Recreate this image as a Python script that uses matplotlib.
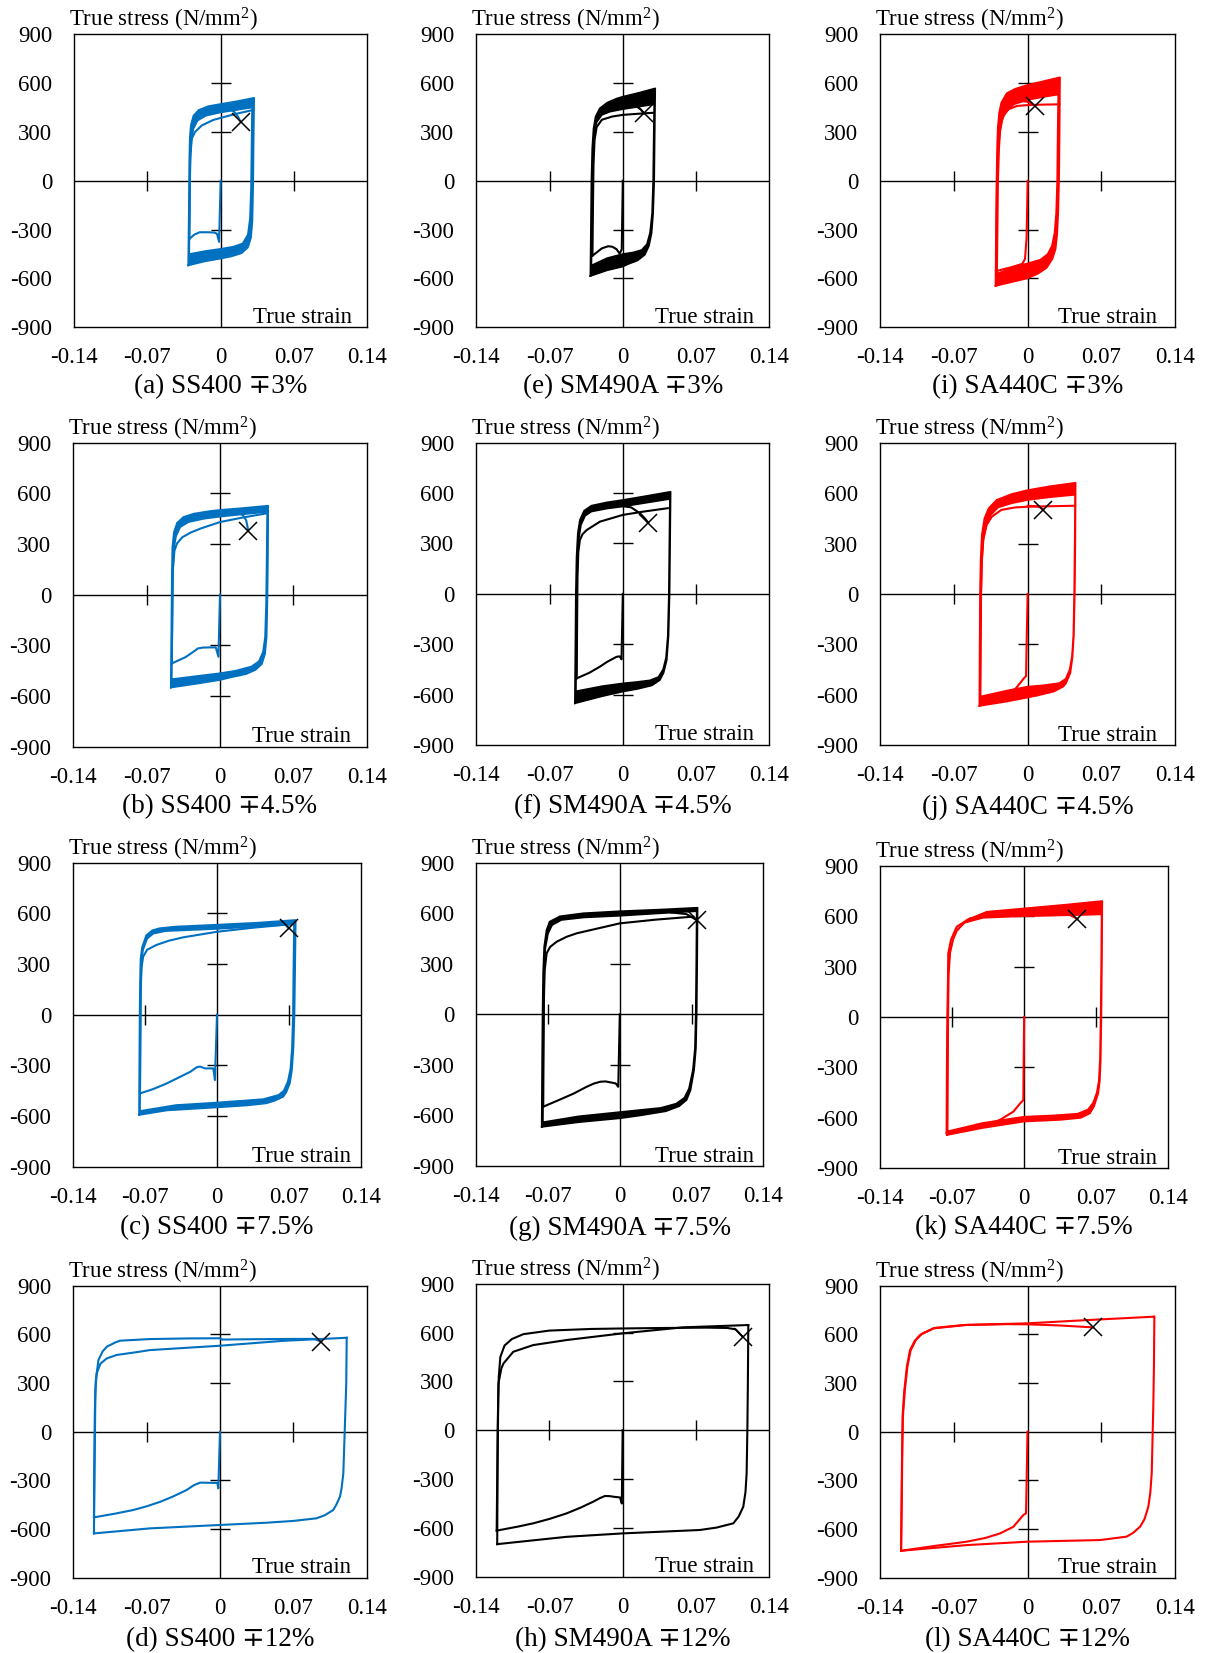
import numpy as np
import matplotlib
matplotlib.use("Agg")
import matplotlib.pyplot as plt
from matplotlib.path import Path
from matplotlib.patches import PathPatch

plt.rcParams['font.family'] = ['Liberation Serif', 'DejaVu Serif']
plt.rcParams['axes.linewidth'] = 1.0
plt.rcParams['mathtext.fontset'] = 'custom'
plt.rcParams['mathtext.rm'] = 'Liberation Serif'
plt.rcParams['mathtext.it'] = 'Liberation Serif:italic'
plt.rcParams['mathtext.default'] = 'rm'

W, H = 1209, 1653

# ---------------- axis ticks ----------------
X_TICKS = [-0.14, -0.07, 0.0, 0.07, 0.14]
X_TICK_LABELS = ['-0.14', '-0.07', '0', '0.07', '0.14']
Y_TICKS = [-900, -600, -300, 0, 300, 600, 900]
Y_TICK_LABELS = ['-900', '-600', '-300', '0', '300', '600', '900']
INNER_X_TICKS = [-0.07, 0.07]
INNER_Y_TICKS = [-600, -300, 300, 600]

BLUE = '#0070C0'
BLACK = '#000000'
RED = '#FF0000'

# ---------------- (a) SS400 -+3% ----------------
A_INIT = [(0, 0), (-0.0015, -375), (-0.0035, -325), (-0.006, -318), (-0.012, -316),
          (-0.02, -316), (-0.025, -330), (-0.0299, -357)]
A_FIRST = [(-0.0299, -357), (-0.0295, -100), (-0.029, 150), (-0.0275, 260), (-0.0245, 300),
           (-0.018, 340), (-0.007, 374), (0.005, 395), (0.015, 412), (0.031, 435)]
A_LOOP_OUT = [(-0.031, -520), (-0.0305, -250), (-0.030, 100), (-0.0295, 260), (-0.0285, 340),
              (-0.026, 400), (-0.021, 435), (-0.012, 458), (0.0, 472), (0.015, 488), (0.032, 510),
              (0.0315, 250), (0.031, -50), (0.0303, -250), (0.029, -350), (0.026, -410),
              (0.020, -445), (0.010, -465), (0.0, -478), (-0.015, -495), (-0.031, -520)]
A_LOOP_IN = [(-0.030, -450), (-0.0295, -200), (-0.029, 100), (-0.028, 250), (-0.026, 320),
             (-0.022, 370), (-0.014, 400), (0.0, 420), (0.015, 435), (0.030, 450),
             (0.0295, 200), (0.029, -50), (0.028, -230), (0.026, -330), (0.021, -385),
             (0.012, -405), (0.0, -418), (-0.015, -432), (-0.030, -450)]
A_END = [(0.005, 440), (0.012, 430), (0.016, 400), (0.019, 364)]
A_X = (0.019, 364)

# ---------------- (b) SS400 -+4.5% ----------------
B_INIT = [(0, 0), (-0.0015, -367), (-0.004, -312), (-0.01, -312), (-0.016, -313),
          (-0.021, -318), (-0.027, -345), (-0.033, -370), (-0.046, -407)]
B_FIRST = [(-0.046, -407), (-0.0455, -100), (-0.045, 150), (-0.0435, 260), (-0.041, 304),
           (-0.036, 340), (-0.028, 368), (-0.018, 393), (0.0, 430), (0.02, 455), (0.0446, 482)]
B_LOOP_OUT = [(-0.047, -550), (-0.0465, -250), (-0.046, 100), (-0.0455, 280), (-0.044, 370),
              (-0.041, 425), (-0.035, 460), (-0.025, 480), (-0.01, 495), (0.0, 502), (0.02, 512),
              (0.046, 527), (0.0458, 250), (0.0452, -50), (0.0445, -250), (0.043, -350),
              (0.040, -410), (0.034, -445), (0.025, -470), (0.01, -490), (0.0, -505),
              (-0.02, -525), (-0.047, -550)]
B_LOOP_IN = [(-0.046, -500), (-0.0455, -200), (-0.045, 100), (-0.044, 270), (-0.042, 345),
             (-0.038, 400), (-0.03, 430), (-0.015, 450), (0.0, 462), (0.02, 475), (0.045, 490),
             (0.0445, 200), (0.044, -50), (0.043, -250), (0.041, -340), (0.037, -395),
             (0.03, -425), (0.015, -450), (0.0, -465), (-0.02, -480), (-0.046, -500)]
B_END = [(0.01, 490), (0.018, 485), (0.022, 470), (0.025, 440), (0.027, 379)]
B_X = (0.027, 379)

# ---------------- (c) SS400 -+7.5% ----------------
C_INIT = [(0, 0), (-0.002, -387), (-0.0036, -318), (-0.008, -318), (-0.0117, -318),
          (-0.0166, -307), (-0.02, -312), (-0.026, -338), (-0.035, -365), (-0.049, -407),
          (-0.062, -440), (-0.075, -466)]
C_FIRST = [(-0.075, -466), (-0.0747, -150), (-0.0743, 150), (-0.0735, 280), (-0.072, 343),
           (-0.068, 385), (-0.059, 413), (-0.047, 438), (-0.033, 458), (0.0, 491),
           (0.035, 515), (0.074, 537)]
C_LOOP_OUT = [(-0.076, -594), (-0.0757, -300), (-0.0754, 0), (-0.075, 200), (-0.0745, 330),
              (-0.073, 400), (-0.069, 470), (-0.063, 500), (-0.056, 512), (-0.04, 522),
              (0.0, 533), (0.04, 545), (0.0767, 561), (0.0762, 300), (0.0755, 0),
              (0.0745, -200), (0.073, -330), (0.071, -407), (0.0675, -460), (0.0646, -486),
              (0.056, -510), (0.048, -525), (0.03, -537), (0.0, -549), (-0.049, -567),
              (-0.076, -594)]
C_LOOP_IN = [(-0.075, -570), (-0.0747, -300), (-0.0744, 0), (-0.074, 200), (-0.0735, 320),
             (-0.072, 385), (-0.068, 450), (-0.062, 480), (-0.05, 495), (0.0, 508),
             (0.04, 522), (0.075, 535), (0.0745, 300), (0.074, 0), (0.073, -200),
             (0.0715, -320), (0.069, -395), (0.065, -450), (0.06, -475), (0.045, -500),
             (0.0, -520), (-0.04, -535), (-0.075, -570)]
C_END = [(0.06, 548), (0.066, 538), (0.0698, 511)]
C_X = (0.0698, 511)

# ---------------- (d) SS400 -+12% ----------------
D_INIT = [(0, 0), (-0.0016, -349), (-0.0025, -316), (-0.01, -315), (-0.019, -314),
          (-0.025, -330), (-0.032, -360), (-0.045, -400), (-0.057, -432), (-0.07, -460),
          (-0.083, -483), (-0.1, -505), (-0.1203, -528)]
D_T1 = [(-0.1203, -528), (-0.12, -200), (-0.1195, 100), (-0.119, 250), (-0.1177, 360),
        (-0.114, 420), (-0.108, 452), (-0.0986, 473), (-0.08, 490), (-0.067, 503),
        (-0.03, 518), (0.0, 530), (0.06, 560), (0.1209, 579)]
D_C1 = [(0.1209, 579), (0.1205, 300), (0.119, 0), (0.1177, -257), (0.116, -350),
        (0.1145, -400), (0.111, -450), (0.108, -483), (0.1, -515), (0.092, -534),
        (0.07, -550), (0.0445, -561), (0.0, -575), (-0.067, -596), (-0.1203, -627)]
D_T2 = [(-0.1203, -627), (-0.1198, -300), (-0.1193, 0), (-0.119, 200), (-0.1185, 318),
        (-0.116, 442), (-0.112, 495), (-0.108, 524), (-0.1, 550), (-0.0955, 561),
        (-0.067, 571), (-0.03, 575), (0.0, 576), (0.002, 568), (0.03, 570), (0.07, 572),
        (0.09, 572), (0.0964, 555)]
D_X = (0.0964, 555)

# ---------------- (e) SM490A -+3% ----------------
E_INIT = [(0, 0), (-0.001, -420), (-0.003, -448), (-0.006, -420), (-0.01, -405),
          (-0.014, -402), (-0.02, -415), (-0.025, -440), (-0.029, -460)]
E_FIRST = [(-0.029, -460), (-0.0285, -150), (-0.028, 100), (-0.027, 250), (-0.025, 330),
           (-0.02, 375), (-0.01, 395), (0.0, 405), (0.015, 412), (0.029, 418)]
E_LOOP_OUT = [(-0.031, -585), (-0.0305, -300), (-0.030, 0), (-0.0292, 200), (-0.028, 320),
              (-0.026, 395), (-0.022, 445), (-0.015, 480), (-0.006, 505), (0.0, 517),
              (0.015, 540), (0.031, 568), (0.0305, 300), (0.030, 0), (0.029, -200),
              (0.0275, -322), (0.025, -400), (0.021, -455), (0.014, -490), (0.005, -512),
              (0.0, -527), (-0.015, -550), (-0.031, -585)]
E_LOOP_IN = [(-0.030, -520), (-0.0295, -250), (-0.029, 0), (-0.028, 200), (-0.027, 300),
             (-0.025, 360), (-0.02, 405), (-0.012, 425), (0.0, 440), (0.015, 455),
             (0.030, 470), (0.0295, 250), (0.029, 0), (0.028, -200), (0.026, -320),
             (0.023, -390), (0.018, -425), (0.01, -440), (0.0, -450), (-0.015, -475),
             (-0.030, -520)]
E_END = [(0.005, 470), (0.012, 462), (0.017, 440), (0.0202, 415)]
E_X = (0.0202, 415)

# ---------------- (f) SM490A -+4.5% ----------------
F_INIT = [(0, 0), (-0.0012, -390), (-0.003, -372), (-0.006, -375), (-0.009, -385),
          (-0.015, -405), (-0.022, -434), (-0.032, -470), (-0.044, -503)]
F_FIRST = [(-0.044, -503), (-0.0437, -200), (-0.0433, 100), (-0.0425, 250), (-0.041, 321),
           (-0.0385, 355), (-0.0345, 380), (-0.0218, 430), (0.0, 470), (0.02, 490),
           (0.043, 510)]
F_LOOP_OUT = [(-0.0458, -652), (-0.0453, -300), (-0.0449, 0), (-0.0442, 220), (-0.043, 360),
              (-0.041, 440), (-0.037, 495), (-0.03, 525), (-0.015, 545), (0.0, 559),
              (0.02, 580), (0.0457, 608), (0.0452, 300), (0.0447, 0), (0.0437, -250),
              (0.042, -394), (0.039, -470), (0.0355, -513), (0.028, -545), (0.015, -565),
              (0.0, -582), (-0.02, -610), (-0.0458, -652)]
F_LOOP_IN = [(-0.0448, -580), (-0.0444, -300), (-0.044, 0), (-0.0433, 200), (-0.042, 330),
             (-0.040, 410), (-0.036, 465), (-0.03, 490), (-0.015, 508), (0.0, 520),
             (0.02, 540), (0.045, 565), (0.0445, 300), (0.044, 0), (0.043, -250),
             (0.0413, -380), (0.0385, -450), (0.034, -495), (0.026, -515), (0.013, -525),
             (0.0, -533), (-0.02, -550), (-0.0448, -580)]
F_END = [(0.0, 522), (0.008, 515), (0.0165, 479), (0.021, 450), (0.0243, 424)]
F_X = (0.0243, 424)

# ---------------- (g) SM490A -+7.5% ----------------
G_INIT = [(0, 0), (-0.0015, -430), (-0.004, -410), (-0.008, -405), (-0.014, -398),
          (-0.019, -400), (-0.025, -410), (-0.0324, -430), (-0.045, -470), (-0.06, -510),
          (-0.0747, -548)]
G_FIRST = [(-0.0747, -548), (-0.0744, -200), (-0.074, 100), (-0.0733, 260), (-0.0714, 362),
           (-0.068, 400), (-0.0616, 431), (-0.052, 460), (-0.042, 481), (0.0, 540),
           (0.035, 562), (0.0717, 580)]
G_LOOP_OUT = [(-0.0762, -668), (-0.0758, -300), (-0.0754, 0), (-0.0748, 250), (-0.0738, 400),
              (-0.0715, 500), (-0.0685, 550), (-0.0584, 582), (-0.0356, 600), (0.0, 612),
              (0.04, 622), (0.0759, 633), (0.0755, 300), (0.075, 0), (0.0743, -200),
              (0.0725, -330), (0.069, -450), (0.0652, -508), (0.058, -545), (0.045, -575),
              (0.02, -600), (0.0, -617), (-0.04, -640), (-0.0762, -668)]
G_LOOP_IN = [(-0.075, -640), (-0.0747, -300), (-0.0743, 0), (-0.0737, 250), (-0.0727, 390),
             (-0.070, 480), (-0.066, 530), (-0.057, 560), (-0.035, 575), (0.0, 585),
             (0.04, 600), (0.075, 612), (0.0746, 300), (0.0741, 0), (0.0733, -200),
             (0.0713, -330), (0.0675, -440), (0.063, -495), (0.055, -530), (0.04, -555),
             (0.0, -580), (-0.04, -605), (-0.075, -640)]
G_END = [(0.05, 605), (0.065, 595), (0.0749, 560)]
G_X = (0.0749, 560)

# ---------------- (h) SM490A -+12% ----------------
H_INIT = [(0, 0), (-0.0008, -450), (-0.0026, -413), (-0.0073, -410), (-0.0125, -405),
          (-0.0169, -404), (-0.022, -418), (-0.0281, -439), (-0.04, -475), (-0.0536, -511),
          (-0.07, -545), (-0.0855, -572), (-0.1, -592), (-0.1205, -617)]
H_T1 = [(-0.1205, -617), (-0.120, -300), (-0.1196, 0), (-0.119, 200), (-0.1188, 288),
        (-0.116, 380), (-0.114, 410), (-0.1046, 482), (-0.0855, 523), (-0.0536, 554),
        (0.0, 595), (0.058, 632), (0.1202, 646)]
H_C1 = [(0.1202, 646), (0.1198, 300), (0.1193, 0), (0.1186, -265), (0.1175, -380),
        (0.1154, -470), (0.111, -530), (0.1059, -572), (0.09, -598), (0.074, -613),
        (0.0, -634), (-0.0536, -655), (-0.12, -700)]
H_T2 = [(-0.12, -700), (-0.1197, -300), (-0.1193, 0), (-0.119, 200), (-0.1185, 330),
        (-0.117, 450), (-0.113, 520), (-0.106, 560), (-0.095, 590), (-0.07, 612),
        (-0.03, 622), (0.0, 625), (0.04, 628), (0.08, 630), (0.1, 628), (0.108, 620),
        (0.1148, 574)]
H_X = (0.1148, 574)

# ---------------- (i) SA440C -+3% ----------------
I_INIT = [(0, 0), (-0.001, -350), (-0.0025, -480), (-0.005, -510), (-0.015, -530),
          (-0.03, -555)]
I_FIRST = [(-0.03, -555), (-0.0295, -250), (-0.029, 0), (-0.028, 200), (-0.026, 330),
           (-0.023, 400), (-0.018, 440), (-0.01, 460), (0.0, 465), (0.015, 468), (0.03, 470)]
I_LOOP_OUT = [(-0.0305, -646), (-0.030, -300), (-0.0295, 0), (-0.029, 200), (-0.0283, 330),
              (-0.027, 420), (-0.025, 480), (-0.0199, 538), (-0.012, 565), (0.0, 589),
              (0.015, 612), (0.0307, 636), (0.0303, 300), (0.0298, 0), (0.029, -200),
              (0.028, -330), (0.0265, -420), (0.0235, -480), (0.018, -535), (0.01, -570),
              (0.0, -599), (-0.015, -622), (-0.0305, -646)]
I_LOOP_IN = [(-0.029, -570), (-0.0285, -300), (-0.028, 0), (-0.027, 200), (-0.026, 300),
             (-0.024, 380), (-0.02, 430), (-0.013, 470), (0.0, 497), (0.015, 515),
             (0.029, 530), (0.0285, 300), (0.028, 0), (0.027, -200), (0.0255, -320),
             (0.023, -400), (0.019, -450), (0.012, -485), (0.0, -507), (-0.015, -535),
             (-0.029, -570)]
I_END = [(-0.005, 490), (0.0, 485), (0.004, 475), (0.007, 460)]
I_X = (0.007, 460)

# ---------------- (j) SA440C -+4.5% ----------------
J_INIT = [(0, 0), (-0.001, -300), (-0.0015, -488), (-0.004, -505), (-0.0073, -531),
          (-0.012, -567), (-0.025, -590), (-0.045, -615)]
J_FIRST = [(-0.045, -615), (-0.0447, -300), (-0.0443, 0), (-0.0435, 200), (-0.042, 330),
           (-0.039, 410), (-0.034, 460), (-0.025, 500), (-0.012, 515), (0.0, 519),
           (0.02, 522), (0.045, 525)]
J_LOOP_OUT = [(-0.0458, -666), (-0.0455, -300), (-0.0452, 0), (-0.0446, 200), (-0.0435, 350),
              (-0.041, 450), (-0.037, 510), (-0.0294, 560), (-0.015, 595), (0.0, 618),
              (0.02, 640), (0.0455, 662), (0.0452, 300), (0.0447, 0), (0.0438, -250),
              (0.0425, -380), (0.0405, -470), (0.0365, -530), (0.0338, -551), (0.025, -580),
              (0.012, -600), (0.0, -616), (-0.02, -640), (-0.0458, -666)]
J_LOOP_IN = [(-0.0448, -610), (-0.0444, -300), (-0.044, 0), (-0.0432, 200), (-0.042, 320),
             (-0.039, 410), (-0.035, 470), (-0.028, 515), (-0.015, 540), (0.0, 559),
             (0.02, 575), (0.045, 590), (0.0446, 300), (0.0441, 0), (0.0433, -250),
             (0.042, -370), (0.0398, -450), (0.036, -505), (0.03, -530), (0.015, -543),
             (0.0, -551), (-0.02, -575), (-0.0448, -610)]
J_END = [(0.0, 525), (0.008, 522), (0.012, 515), (0.0149, 500)]
J_X = (0.0149, 500)

# ---------------- (k) SA440C -+7.5% ----------------
K_INIT = [(0, 0), (-0.0005, -300), (-0.0008, -494), (-0.004, -515), (-0.0105, -563),
          (-0.0235, -612), (-0.035, -640), (-0.049, -662), (-0.0753, -692)]
K_FIRST = [(-0.0753, -692), (-0.075, -300), (-0.0746, 0), (-0.074, 200), (-0.0737, 379),
           (-0.071, 460), (-0.0655, 537), (-0.0526, 587), (-0.03, 600), (0.0, 603),
           (0.04, 608), (0.0753, 612)]
K_LOOP_OUT = [(-0.0748, -702), (-0.0745, -300), (-0.0742, 0), (-0.0737, 280), (-0.072, 400),
              (-0.0685, 470), (-0.0655, 510), (-0.0558, 577), (-0.0364, 626), (0.0, 646),
              (0.04, 668), (0.0759, 690), (0.0755, 300), (0.075, 0), (0.0744, -250),
              (0.0735, -380), (0.072, -454), (0.068, -530), (0.064, -573), (0.055, -600),
              (0.035, -612), (0.0, -622), (-0.04, -660), (-0.0748, -702)]
K_LOOP_IN = [(-0.0743, -680), (-0.074, -300), (-0.0737, 0), (-0.0732, 250), (-0.0718, 380),
             (-0.069, 460), (-0.065, 520), (-0.058, 560), (-0.04, 590), (0.0, 600),
             (0.04, 605), (0.0752, 612), (0.0748, 300), (0.0743, 0), (0.0736, -250),
             (0.0725, -380), (0.0705, -450), (0.067, -510), (0.062, -550), (0.052, -575),
             (0.03, -585), (0.0, -593), (-0.04, -630), (-0.0743, -680)]
K_END = [(0.03, 625), (0.045, 605), (0.0518, 583)]
K_X = (0.0518, 583)

# ---------------- (l) SA440C -+12% ----------------
L_INIT = [(0, 0), (-0.0008, -300), (-0.0014, -503), (-0.004, -514), (-0.0134, -586),
          (-0.026, -627), (-0.04, -655), (-0.0577, -678), (-0.089, -705), (-0.12, -734)]
L_T1 = [(-0.12, -734), (-0.1195, -400), (-0.119, -100), (-0.1185, 100), (-0.117, 250),
        (-0.1145, 400), (-0.1115, 503), (-0.107, 560), (-0.102, 596), (-0.0894, 637),
        (-0.0577, 658), (0.0, 668), (0.0563, 688), (0.12, 709)]
L_C1 = [(0.1204, 709), (0.12, 400), (0.1194, 154), (0.1179, -257), (0.1165, -380),
        (0.1147, -462), (0.111, -540), (0.1068, -586), (0.1, -625), (0.094, -647),
        (0.0688, -668), (0.0, -678), (-0.0577, -699), (-0.12, -734)]
L_T2 = [(-0.12, -734), (-0.1193, -400), (-0.1188, -100), (-0.1182, 100), (-0.1165, 250),
        (-0.114, 400), (-0.111, 500), (-0.106, 565), (-0.1, 605), (-0.088, 640),
        (-0.06, 658), (-0.02, 663), (0.0, 662), (0.03, 655), (0.0625, 643)]
L_X = (0.0625, 643)

CAPTIONS = ['(a) SS400 \u22133%', '(b) SS400 \u22134.5%', '(c) SS400 \u22137.5%', '(d) SS400 \u221312%',
            '(e) SM490A \u22133%', '(f) SM490A \u22134.5%', '(g) SM490A \u22137.5%', '(h) SM490A \u221312%',
            '(i) SA440C \u22133%', '(j) SA440C \u22134.5%', '(k) SA440C \u22137.5%', '(l) SA440C \u221312%']

# axes boxes in pixels: left, top, right, bottom
RECTS = [(74, 34.3, 367.3, 327.3), (73.3, 442.7, 366.7, 746.7),
         (73.3, 862.7, 360.7, 1166.7), (73.3, 1285.7, 366.7, 1577.7),
         (476.3, 34.3, 769.3, 327.3), (476.3, 442.7, 769.3, 745.0),
         (476.3, 862.7, 763.3, 1166.0), (476.3, 1283.7, 769.0, 1576.7),
         (880, 34.3, 1175.3, 327.3), (880, 442.7, 1175.3, 745.3),
         (880, 865.7, 1168.3, 1168.3), (880, 1285.7, 1175.0, 1577.7)]
CAPTION_Y = [387, 807, 1228, 1640]

PANELS = [
    (BLUE, [A_INIT, A_FIRST, A_END], (A_LOOP_OUT, A_LOOP_IN), A_X),
    (BLUE, [B_INIT, B_FIRST, B_END], (B_LOOP_OUT, B_LOOP_IN), B_X),
    (BLUE, [C_INIT, C_FIRST, C_END], (C_LOOP_OUT, C_LOOP_IN), C_X),
    (BLUE, [D_INIT, D_T1, D_C1, D_T2], None, D_X),
    (BLACK, [E_INIT, E_FIRST, E_END], (E_LOOP_OUT, E_LOOP_IN), E_X),
    (BLACK, [F_INIT, F_FIRST, F_END], (F_LOOP_OUT, F_LOOP_IN), F_X),
    (BLACK, [G_INIT, G_FIRST, G_END], (G_LOOP_OUT, G_LOOP_IN), G_X),
    (BLACK, [H_INIT, H_T1, H_C1, H_T2], None, H_X),
    (RED, [I_INIT, I_FIRST, I_END], (I_LOOP_OUT, I_LOOP_IN), I_X),
    (RED, [J_INIT, J_FIRST, J_END], (J_LOOP_OUT, J_LOOP_IN), J_X),
    (RED, [K_INIT, K_FIRST, K_END], (K_LOOP_OUT, K_LOOP_IN), K_X),
    (RED, [L_INIT, L_T1, L_C1, L_T2], None, L_X),
]

fig = plt.figure(figsize=(W / 100, H / 100), dpi=100)
FS = 16.5


def closed_codes(n):
    return [Path.MOVETO] + [Path.LINETO] * (n - 2) + [Path.CLOSEPOLY]


for idx, (color, lines, band, xmark) in enumerate(PANELS):
    l, t, r, b = RECTS[idx]
    ax = fig.add_axes([l / W, 1 - b / H, (r - l) / W, (b - t) / H])
    ax.set_xlim(-0.14, 0.14)
    ax.set_ylim(-900, 900)
    ax.set_xticks(X_TICKS)
    ax.set_xticklabels(X_TICK_LABELS)
    ax.set_yticks(Y_TICKS)
    ax.set_yticklabels(Y_TICK_LABELS)
    ax.tick_params(axis='both', length=0, labelsize=FS)
    ax.tick_params(axis='x', pad=14.5)
    ax.tick_params(axis='y', pad=15.8)
    for sp in ax.spines.values():
        sp.set_color('black')
        sp.set_linewidth(1.0)

    # central cross axes with tick marks
    ax.axhline(0, color='black', lw=1.0, zorder=1)
    ax.axvline(0, color='black', lw=1.0, zorder=1)
    ax.plot(np.zeros(len(INNER_Y_TICKS)), INNER_Y_TICKS, ls='none', marker='_',
            ms=15, mew=1.0, color='black', zorder=1)
    ax.plot(INNER_X_TICKS, np.zeros(len(INNER_X_TICKS)), ls='none', marker='|',
            ms=14, mew=1.0, color='black', zorder=1)

    if band is not None:
        outer = np.array(band[0], dtype=float)
        inner = np.array(band[1], dtype=float)[::-1]
        verts = np.vstack([outer, inner])
        codes = closed_codes(len(outer)) + closed_codes(len(inner))
        patch = PathPatch(Path(verts, codes), facecolor=color, edgecolor='none', zorder=2)
        ax.add_patch(patch)
        for lp in band:
            arr = np.array(lp, dtype=float)
            ax.plot(arr[:, 0], arr[:, 1], color=color, lw=1.2, zorder=3,
                    solid_joinstyle='round')

    for seg in lines:
        arr = np.array(seg, dtype=float)
        ax.plot(arr[:, 0], arr[:, 1], color=color, lw=1.5, zorder=3,
                solid_joinstyle='round')

    ax.plot([xmark[0]], [xmark[1]], ls='none', marker='x', ms=13, mew=1.1,
            color='black', zorder=4)

    fig.text((l - 5) / W, 1 - (t - 14) / H, r'True stress (N/mm$^{2}$)', fontsize=FS,
             ha='left', va='center')
    fig.text((l + 277.5) / W, 1 - (b - 4.5) / H, 'True strain', fontsize=FS,
             ha='right', va='baseline')
    fig.text(((l + r) / 2) / W, 1 - CAPTION_Y[idx % 4] / H, CAPTIONS[idx], fontsize=19.5,
             ha='center', va='center')

fig.savefig('out.png', dpi=100, facecolor='white')
